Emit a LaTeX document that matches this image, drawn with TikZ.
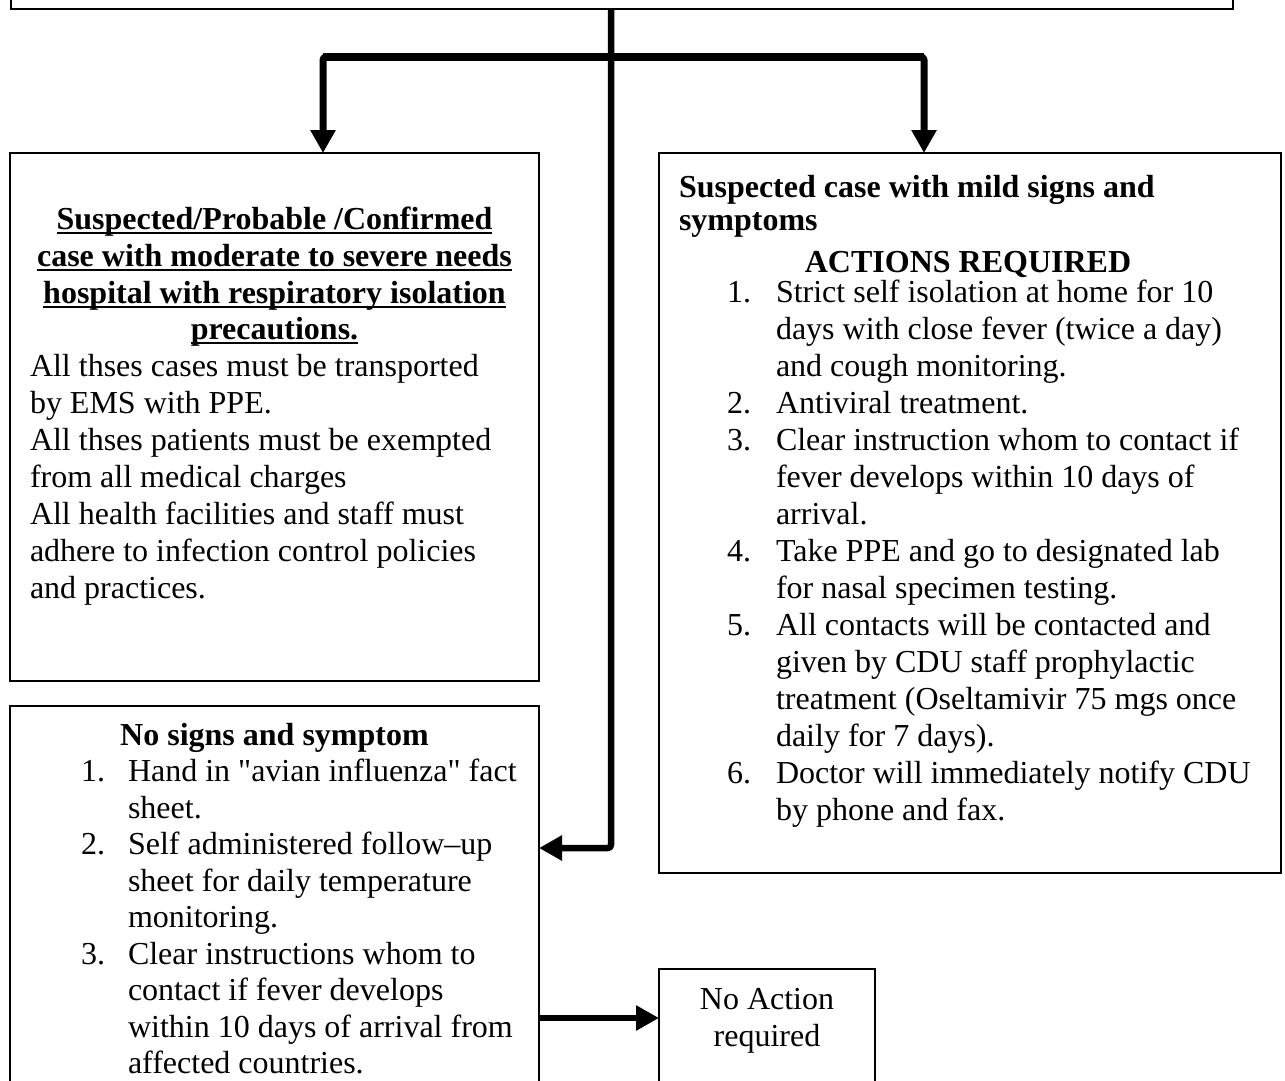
\documentclass[tikz,border=0pt]{standalone}
\usepackage{fontspec}
\setmainfont{Liberation Serif}[Ligatures=TeXOff]
\usetikzlibrary{arrows.meta}
\newcommand\myul[1]{\setbox0\hbox{#1}\rlap{\rule[-5pt]{\wd0}{2pt}}\box0}
\begin{document}
\begin{tikzpicture}[x=1pt,y=-1pt,
  box/.style={draw, line width=1.3pt, inner sep=0pt, outer sep=0pt, anchor=north west},
  txt/.style={inner sep=0pt, outer sep=0pt, anchor=base west, font=\fontsize{32}{37}\selectfont},
  ctxt/.style={txt, anchor=base},
  btxt/.style={txt, font=\fontsize{32}{37}\selectfont\bfseries},
  cbtxt/.style={btxt, anchor=base},
  conn/.style={line width=6.5pt, line join=round, rounded corners=3pt, -{Triangle[length=23pt,width=24pt]}},
  conn2/.style={line width=7pt, line join=round, rounded corners=3pt, {Triangle[length=23pt,width=24pt]}-{Triangle[length=23pt,width=24pt]}},
  barline/.style={line width=8.5pt, line cap=butt}
]
\useasboundingbox (0,0) rectangle (1285,1081);
\clip (0,0) rectangle (1285,1081);

% boxes
\node[box, anchor=south west, minimum width=1222pt, minimum height=60pt] (top) at (11,9) {};
\node[box, minimum width=529pt, minimum height=528pt] (box1) at (10,153) {};
\node[box, minimum width=622pt, minimum height=720pt] (box2) at (659,153) {};
\node[box, minimum width=529pt, minimum height=420pt] (box3) at (10,706) {};
\node[box, minimum width=216pt, minimum height=150pt] (noact) at (659,969) {};

% junction coordinates
\coordinate (t) at (611,848);
\coordinate (bl) at (323,57);
\coordinate (br) at (924,57);
\coordinate (r4) at (600,1018);

% connectors
\draw[conn2] (bl |- box1.north) -- (bl) -- (br) -- (br |- box2.north);
\draw[barline] (bl) -- (br);
\draw[conn] (top.south -| t) -- (t) -- (t -| box3.east);
\draw[conn] (r4 -| box3.east) -- (r4 -| noact.west);

% box1 text
\node[cbtxt] (h1) at (274.5,229) {\myul{Suspected/Probable /Confirmed}};
\node[cbtxt] (h2) at (274.5,266) {\myul{case with moderate to severe needs}};
\node[cbtxt] (h3) at (274.5,303) {\myul{hospital with respiratory isolation}};
\node[cbtxt] (h4) at (274.5,339) {\myul{precautions.}};
\foreach \yy/\tt [count=\i] in {376/{All thses cases must be transported},
  413/{by EMS with PPE.},
  450/{All thses patients must be exempted},
  487/{from all medical charges},
  524/{All health facilities and staff must},
  561/{adhere to infection control policies},
  598/{and practices.}}
  \node[txt] (la\i) at (30,\yy) {\tt};

% box2 text
\node[btxt] (rh1) at (679,197) {Suspected case with mild signs and};
\node[btxt] (rh2) at (679,230) {symptoms};
\node[cbtxt] (rh3) at (968,272) {ACTIONS REQUIRED};
\foreach \yy/\nn in {302/1., 413/2., 450/3., 561/4., 635/5., 783/6.}
  \node[txt] (rn\nn) at (727,\yy) {\nn};
\foreach \yy/\tt [count=\i] in {302/{Strict self isolation at home for 10},
  339/{days with close fever (twice a day)},
  376/{and cough monitoring.},
  413/{Antiviral treatment.},
  450/{Clear instruction whom to contact if},
  487/{fever develops within 10 days of},
  524/{arrival.},
  561/{Take PPE and go to designated lab},
  598/{for nasal specimen testing.},
  635/{All contacts will be contacted and},
  672/{given by CDU staff prophylactic},
  709/{treatment (Oseltamivir 75 mgs once},
  746/{daily for 7 days).},
  783/{Doctor will immediately notify CDU},
  820/{by phone and fax.}}
  \node[txt] (rb\i) at (776,\yy) {\tt};

% box3 text
\node[cbtxt] (bh) at (274.5,745) {No signs and symptom};
\foreach \yy/\nn in {781.5/1., 854.5/2., 964/3.}
  \node[txt] (bn\nn) at (81,\yy) {\nn};
\foreach \yy/\tt [count=\i] in {781.5/{Hand in "avian influenza" fact},
  818/{sheet.},
  854.5/{Self administered follow–up},
  891/{sheet for daily temperature},
  927.5/{monitoring.},
  964/{Clear instructions whom to},
  1000.5/{contact if fever develops},
  1037/{within 10 days of arrival from},
  1073.5/{affected countries.}}
  \node[txt] (bb\i) at (128,\yy) {\tt};

% no action text
\node[ctxt] (na1) at (767,1009) {No Action};
\node[ctxt] (na2) at (767,1046) {required};
\end{tikzpicture}
\end{document}
